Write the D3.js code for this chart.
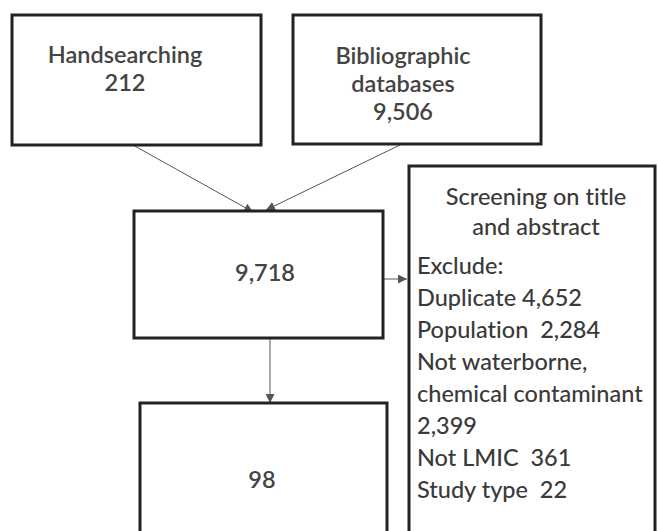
<!DOCTYPE html>
<html>
<head>
<meta charset="utf-8">
<script src="https://cdn.jsdelivr.net/npm/d3@7"></script>
<style>
  body { margin: 0; background: #fff; }
  text { font-family: Lato, "Open Sans", sans-serif; fill: #3a3a3a; white-space: pre; font-variant-ligatures: none; }
  .bold { font-weight: 600; fill: #444; }
  .plain { font-weight: 500; }
</style>
</head>
<body>
<div id="chart"></div>
<script>
// flow counts
const sourceLabels = [["Handsearching"], ["Bibliographic", "databases"]];
const sourceCounts = [212, 9506];
const pooledCount = 9718;
const includedCount = 98;
const screenTitle = ["Screening on title", "and abstract"];
const excludeLines = ["Exclude:", "Duplicate 4,652", "Population  2,284", "Not waterborne,",
  "chemical contaminant", "2,399", "Not LMIC  361", "Study type  22"];

const width = 658, height = 531;
const fmt = d3.format(",");

const svg = d3.select("#chart").append("svg")
    .attr("width", width)
    .attr("height", height);

svg.append("defs").append("marker")
    .attr("id", "arrow")
    .attr("viewBox", "0 0 10 10")
    .attr("refX", 10).attr("refY", 5)
    .attr("markerWidth", 9).attr("markerHeight", 9)
    .attr("markerUnits", "userSpaceOnUse")
    .attr("orient", "auto")
    .append("path")
    .attr("d", "M0,0 L10,5 L0,10 Z")
    .attr("fill", "#555");

// boxes: [x, y, w, h]
const boxes = {
    hand: [12, 15, 249, 130],
    biblio: [293, 15, 248, 129],
    pooled: [134, 211, 249, 127],
    screen: [409, 166, 246, 380],
    incl: [140, 403, 247, 140]
};

// arrows first so boxes sit on top
const arrows = [
    [[133, 145], [253, 212]],
    [[402, 144], [266, 210]],
    [[383, 279], [407, 279]],
    [[270, 338], [270, 403]]
];
svg.selectAll(".arrow")
    .data(arrows)
    .join("line")
    .attr("class", "arrow")
    .attr("x1", d => d[0][0]).attr("y1", d => d[0][1])
    .attr("x2", d => d[1][0]).attr("y2", d => d[1][1])
    .attr("stroke", "#555")
    .attr("stroke-width", 1)
    .attr("marker-end", "url(#arrow)");

svg.selectAll(".box")
    .data(Object.values(boxes))
    .join("rect")
    .attr("class", "box")
    .attr("x", d => d[0]).attr("y", d => d[1])
    .attr("width", d => d[2]).attr("height", d => d[3])
    .attr("fill", "none")
    .attr("stroke", "#222")
    .attr("stroke-width", 3);

// source boxes text
const srcText = [
    { x: 125, lines: [...sourceLabels[0], String(sourceCounts[0])], y0: 63 },
    { x: 403, lines: [...sourceLabels[1], fmt(sourceCounts[1])], y0: 64 }
];
srcText.forEach(s => {
    svg.append("g").selectAll("text")
        .data(s.lines)
        .join("text")
        .attr("class", "bold")
        .attr("x", s.x)
        .attr("y", (d, i) => s.y0 + i * 28)
        .attr("text-anchor", "middle")
        .attr("font-size", 23.5)
        .text(d => d);
});

svg.append("text")
    .attr("class", "bold")
    .attr("x", 265).attr("y", 281)
    .attr("text-anchor", "middle")
    .attr("font-size", 23.5)
    .text(fmt(pooledCount));

svg.append("text")
    .attr("class", "bold")
    .attr("x", 262).attr("y", 488)
    .attr("text-anchor", "middle")
    .attr("font-size", 23.5)
    .text(includedCount);

svg.append("g").selectAll("text")
    .data(screenTitle)
    .join("text")
    .attr("class", "plain")
    .attr("x", 536)
    .attr("y", (d, i) => 205 + i * 30)
    .attr("text-anchor", "middle")
    .attr("font-size", 23.5)
    .text(d => d);

svg.append("g").selectAll("text")
    .data(excludeLines)
    .join("text")
    .attr("class", "plain")
    .attr("x", 417)
    .attr("y", (d, i) => 274 + i * 32)
    .attr("font-size", 23.5)
    .text(d => d);
</script>
</body>
</html>
